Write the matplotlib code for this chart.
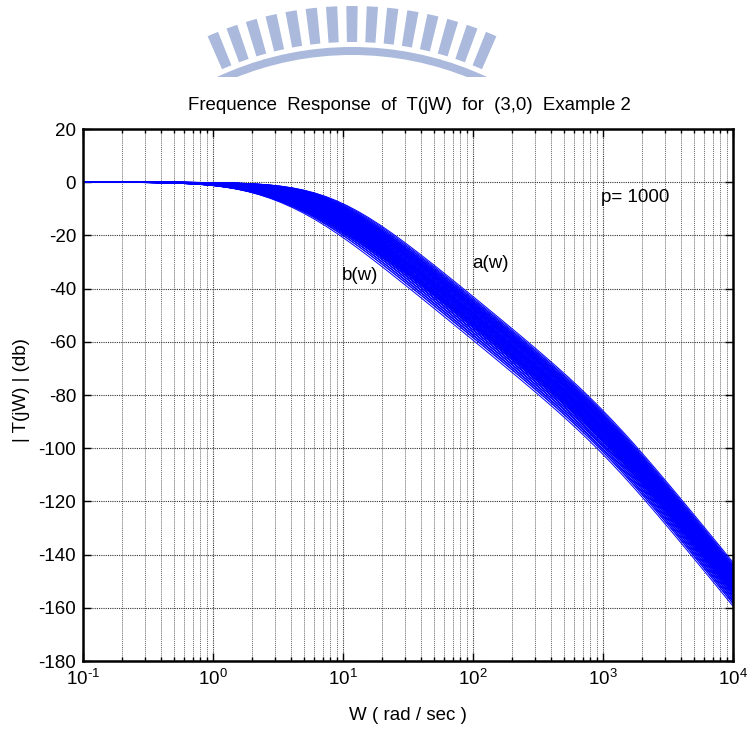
import numpy as np
import matplotlib.pyplot as plt
from matplotlib.patches import Wedge
from matplotlib.ticker import FixedLocator, NullFormatter

plt.rcParams['font.family'] = ['Liberation Sans', 'DejaVu Sans']
plt.rcParams['mathtext.fontset'] = 'custom'
plt.rcParams['mathtext.rm'] = 'Liberation Sans'
plt.rcParams['mathtext.it'] = 'Liberation Sans:italic'
plt.rcParams['axes.unicode_minus'] = False

# plant family T(s) = 1 / ((s/p1+1)(s/p2+1)(s/p3+1)), poles
p1_vals = [1.8, 2.0, 2.2, 2.5, 2.8, 3.1, 3.5, 3.9, 4.3, 4.8, 5.3, 6.0]
p2_vals = [6.0, 6.8, 7.6, 8.5, 9.4, 10.4, 11.2, 12.0]
p3 = 1000.0

w = np.logspace(-1, 4, 60)

db_ticks = [20, 0, -20, -40, -60, -80, -100, -120, -140, -160, -180]
decades = [0.1, 1, 10, 100, 1000, 10000]
decade_labels = [r'$10^{\text{-}1}$', r'$10^{0}$', r'$10^{1}$', r'$10^{2}$', r'$10^{3}$', r'$10^{4}$']


def mag_db(w, poles):
    out = np.zeros_like(w)
    for p in poles:
        out -= 10 * np.log10(1 + (w / p) ** 2)
    return out


fig = plt.figure(figsize=(7.49, 7.29), dpi=100)

# watermark arch at the top
wm_color = '#aab9dc'
wm = fig.add_axes([0, 1 - 77 / 729, 1, 77 / 729])
wm.set_xlim(0, 749)
wm.set_ylim(729 - 77, 729)
wm.axis('off')
cx, cy, R = 352, 729 - 366, 319
wm.add_patch(Wedge((cx, cy), R, 0, 180, width=8, color=wm_color, lw=0))
for k in range(-7, 8):
    th = 90 + k * 3.25
    wm.add_patch(Wedge((cx, cy), R + 41, th - 0.9, th + 0.9, width=36, color=wm_color, lw=0))

ax = fig.add_axes([83 / 749, 1 - 661 / 729, 650 / 749, 532 / 729])

for a in p1_vals:
    for b in p2_vals:
        if b < a:
            continue
        ax.semilogx(w, mag_db(w, [a, b, p3]), color='#0000ff', lw=0.7)

ax.set_xlim(0.1, 1e4)
ax.set_ylim(-180, 20)
ax.set_yticks(db_ticks)
ax.set_xticks(decades)
ax.set_xticklabels(decade_labels)
minors = [m * d for d in decades[:-1] for m in range(2, 10)]
ax.xaxis.set_minor_locator(FixedLocator(minors))
ax.xaxis.set_minor_formatter(NullFormatter())

ax.grid(True, which='major', color='0.2', ls=(0, (1, 1)), lw=0.8)
ax.grid(True, which='minor', axis='x', color='0.4', ls=(0, (1, 1)), lw=0.7)
ax.tick_params(which='both', direction='in', top=True, right=True, labelsize=13.5)
ax.tick_params(which='major', length=6, width=1)
ax.tick_params(which='minor', length=3, width=1)
ax.tick_params(axis='x', which='major', pad=6)
ax.tick_params(axis='y', which='major', pad=5)
for s in ax.spines.values():
    s.set_linewidth(1.8)

ax.text(966, -5.6, 'p= 1000', fontsize=13.5, va='center', ha='left')
ax.text(98, -30.4, 'a(w)', fontsize=13.5, va='center', ha='left')
ax.text(9.8, -34.9, 'b(w)', fontsize=13.5, va='center', ha='left')

fig.text(409 / 749, 1 - 105 / 729,
         'Frequence  Response  of  T(jW)  for  (3,0)  Example 2',
         fontsize=13.4, ha='center', va='center')
fig.text(408 / 749, 1 - 716 / 729, 'W ( rad / sec )', fontsize=13.5, ha='center', va='center')
fig.text(22 / 749, 1 - 390 / 729, '| T(jW) | (db)', fontsize=13.5, ha='center', va='center',
         rotation=90)

fig.savefig('out.png', dpi=100)
